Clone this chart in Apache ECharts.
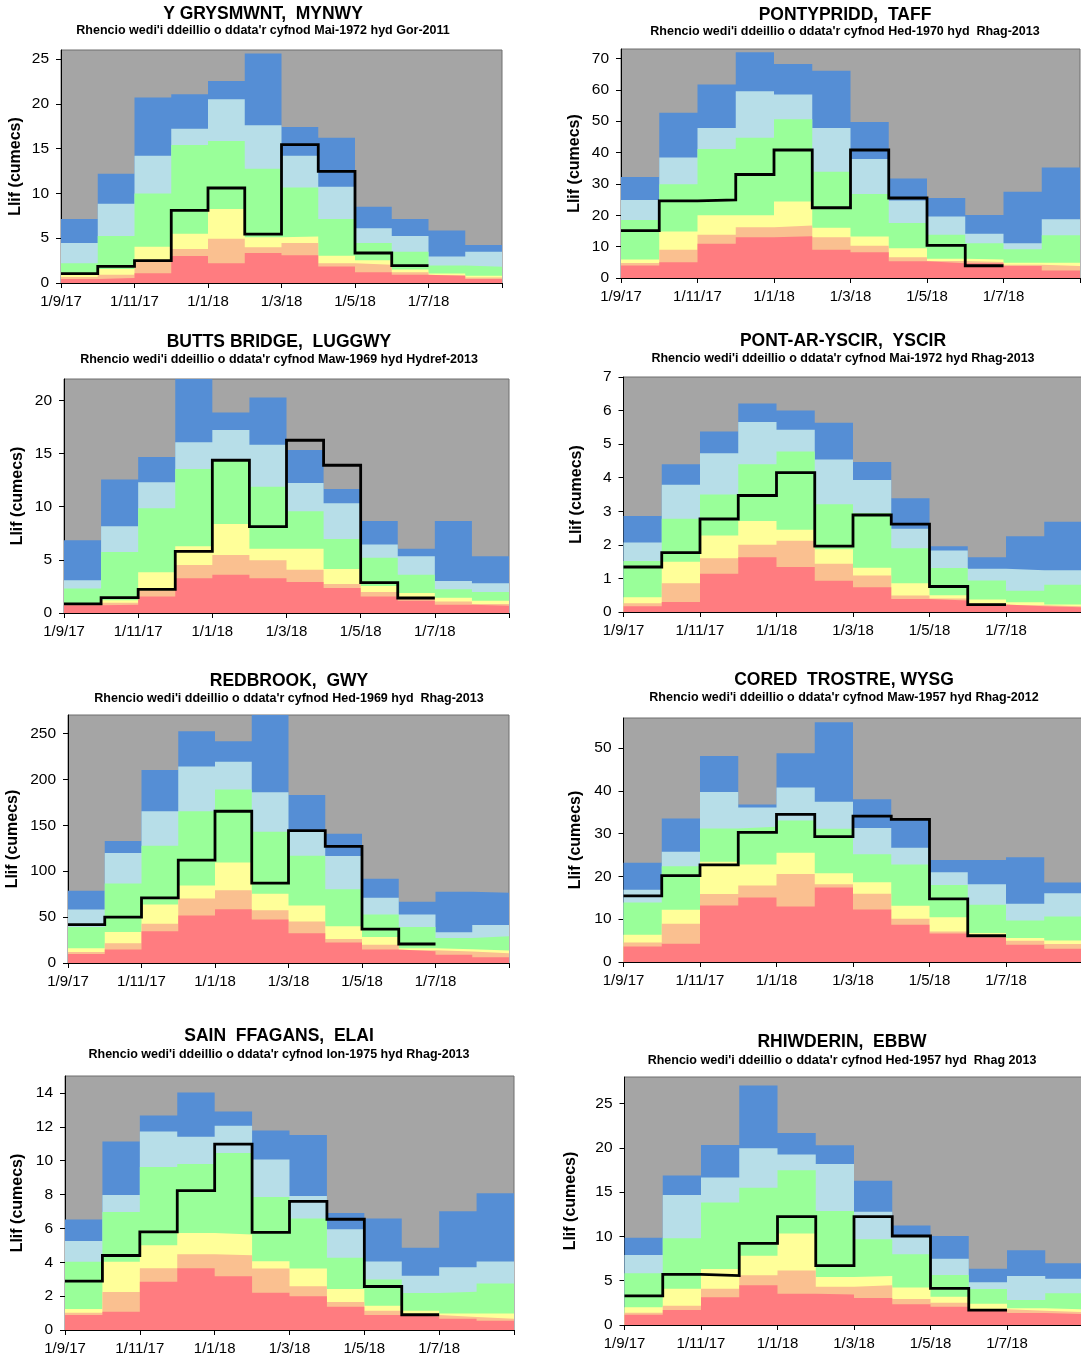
<!DOCTYPE html>
<html>
<head>
<meta charset="utf-8">
<script src="https://cdn.jsdelivr.net/npm/echarts@6/dist/echarts.min.js"></script>
<style>
html,body{margin:0;padding:0;background:#fff;}
#chart{width:1081px;height:1359px;}
</style>
</head>
<body>
<div id="chart"></div>
<script>
// Month boundaries (category points); last one closes the final month
const monthLabels = ['1/9/17','1/10/17','1/11/17','1/12/17','1/1/18','1/2/18','1/3/18','1/4/18','1/5/18','1/6/18','1/7/18','1/8/18','1/9/18'];

// Upper limits of each ranking band (cumecs), Sep-2017 .. Aug-2018, plus observed monthly flow
// Y GRYSMWNT, MYNWY
const mynwyExLow    = [0.45,0.55,1.1,3.0,2.2,3.35,3.1,1.85,1.2,0.93,0.78,0.45];
const mynwyNotLow   = [0.67,0.93,2.5,3.8,4.95,4.0,4.45,2.2,2.05,1.2,0.9,0.6];
const mynwyBelow    = [0.9,1.55,4.05,5.5,8.25,5.1,5.2,3.05,2.55,1.5,1.05,0.8];
const mynwyNormal   = [2.2,5.25,10.0,15.4,15.85,12.75,10.65,7.15,4.45,3.5,1.95,1.8];
const mynwyAbove    = [4.45,8.85,14.2,17.2,20.5,17.6,14.2,10.75,6.1,5.25,2.95,3.5];
const mynwyNotHigh  = [7.15,12.2,20.7,21.05,22.55,25.6,17.4,16.2,8.5,7.15,5.85,4.25];
const mynwyFlow     = [1.05,1.85,2.5,8.1,10.6,5.45,15.45,12.45,3.35,1.95];

// PONTYPRIDD, TAFF
const taffExLow   = [4.0,5.0,10.9,13.0,13.3,9.0,8.2,5.3,4.7,4.7,3.8,2.4];
const taffNotLow  = [4.8,9.0,13.8,16.2,16.7,13.0,10.3,6.6,5.4,5.1,4.2,3.8];
const taffBelow   = [5.9,14.8,20.0,20.0,24.4,16.0,13.2,9.5,6.1,5.9,4.9,4.9];
const taffNormal  = [18.5,29.9,41.1,44.7,50.6,33.9,26.8,17.5,13.8,11.1,9.2,13.6];
const taffAbove   = [24.9,38.4,47.8,59.5,58.5,47.8,37.9,24.7,19.6,14.1,11.1,18.7];
const taffNotHigh = [32.2,52.7,61.7,72.0,68.2,66.1,49.7,31.7,25.5,20.1,27.5,35.2];
const taffFlow    = [15.1,24.6,24.9,33.0,40.8,22.4,40.8,25.5,10.4,3.9];

// BUTTS BRIDGE, LUGGWY
const luggwyExLow   = [0.72,0.78,1.54,3.26,3.6,3.26,2.92,2.35,1.54,1.16,0.78,0.69];
const luggwyNotLow  = [0.78,0.97,2.1,4.51,5.45,4.95,4.07,2.73,1.97,1.5,1.07,0.85];
const luggwyBelow   = [0.88,1.2,3.82,6.27,8.37,6.05,6.05,4.14,2.54,1.88,1.44,1.16];
const luggwyNormal  = [2.3,5.74,9.84,13.54,14.4,11.88,9.56,6.96,5.2,3.6,2.23,1.97];
const luggwyAbove   = [3.07,8.15,12.3,16.05,17.2,15.83,12.23,10.31,6.43,5.33,3.0,2.79];
const luggwyNotHigh = [6.83,12.54,14.67,23.5,18.84,20.25,15.33,11.66,8.65,6.05,8.65,5.33];
const luggwyFlow    = [0.85,1.45,2.23,5.8,14.36,8.12,16.24,13.89,2.85,1.41];

// PONT-AR-YSCIR, YSCIR
const yscirExLow   = [0.17,0.3,1.14,1.63,1.34,0.93,0.74,0.39,0.34,0.22,0.17,0.14];
const yscirNotLow  = [0.26,0.86,1.6,2.0,2.12,1.44,1.09,0.49,0.4,0.26,0.2,0.17];
const yscirBelow   = [0.44,1.5,2.28,2.71,2.45,1.87,1.32,0.86,0.5,0.37,0.29,0.22];
const yscirNormal  = [1.52,2.78,3.5,4.4,4.78,3.21,2.95,1.9,1.31,0.94,0.63,0.81];
const yscirAbove   = [2.07,3.79,4.73,5.66,5.43,4.54,3.93,2.48,1.83,1.29,1.24,1.24];
const yscirNotHigh = [2.86,4.4,5.38,6.21,6.0,5.64,4.47,3.39,1.96,1.63,2.26,2.69];
const yscirFlow    = [1.34,1.77,2.77,3.47,4.15,1.96,2.89,2.62,0.76,0.22];

// REDBROOK, GWY
const gwyExLow   = [9.8,14.6,34.6,51.7,58.6,47.3,32.4,22.2,14.6,12.7,9.1,6.2];
const gwyNotLow  = [12.0,21.5,42.6,70.2,79.3,57.5,45.1,26.2,20.0,13.8,12.5,10.6];
const gwyBelow   = [16.0,33.8,63.7,84.4,109.5,75.3,62.6,40.0,28.4,16.0,15.0,13.5];
const gwyNormal  = [39.3,86.6,127.7,165.2,188.9,143,116.8,80.4,52.8,39.3,27.3,29.1];
const gwyAbove   = [58.2,119.7,165.2,214,219,186,144.1,116.4,71.0,52.8,33.5,41.5];
const gwyNotHigh = [78.6,132.8,210,252.2,241.3,290,183,140.8,91.7,66.6,77.5,76.4];
const gwyFlow    = [41.8,49.9,71.0,112.1,165.2,87.0,144.1,127,36.8,20.7];

// CORED TROSTRE, WYSG
const wysgExLow   = [3.65,4.27,13.2,15.06,12.97,17.4,12.27,8.7,6.68,5.75,4.04,3.1];
const wysgNotLow  = [4.58,8.93,15.9,17.86,20.57,18.17,15.92,10.1,7.14,6.13,4.97,4.19];
const wysgBelow   = [6.37,12.19,23.4,22.8,25.54,20.73,18.63,13.12,10.48,6.75,5.59,5.05];
const wysgNormal  = [13.9,22.36,31.2,31.6,33.07,31.13,25.16,22.8,18.0,13.35,9.7,10.64];
const wysgAbove   = [16.85,25.78,39.7,36.1,40.76,37.42,31.29,26.7,20.96,18.17,13.59,16.07];
const wysgNotHigh = [23.2,33.54,48.1,36.8,48.76,55.98,38.0,33.5,23.84,23.84,24.46,18.56];
const wysgFlow    = [15.45,20.19,22.7,30.3,34.47,29.27,34.08,33.3,14.75,6.13];

// SAIN FFAGANS, ELAI
const elaiExLow   = [0.88,1.08,2.85,3.65,3.18,2.2,2.0,1.37,0.88,0.79,0.67,0.55];
const elaiNotLow  = [1.02,2.24,3.65,4.48,4.42,3.63,2.59,1.65,1.14,0.88,0.77,0.67];
const elaiBelow   = [1.24,4.03,5.0,5.73,5.64,4.06,3.63,2.42,1.43,1.14,0.98,0.98];
const elaiNormal  = [4.03,6.97,9.62,9.8,10.45,7.85,6.58,4.26,2.98,2.18,2.26,2.75];
const elaiAbove   = [5.26,7.97,11.72,11.41,12.06,10.07,7.91,5.95,4.04,3.2,3.71,4.04];
const elaiNotHigh = [6.52,11.13,12.66,14.02,12.9,11.78,11.51,6.91,6.58,4.85,7.01,8.07];
const elaiFlow    = [2.89,4.4,5.79,8.23,10.98,5.77,7.6,6.54,2.57,0.9];

// RHIWDERIN, EBBW
const ebbwExLow   = [1.17,1.69,3.13,4.48,3.54,3.43,3.05,2.33,2.07,1.62,1.36,1.24];
const ebbwNotLow  = [1.39,2.18,4.1,5.61,6.14,4.33,4.48,2.94,2.52,1.77,1.62,1.47];
const ebbwBelow   = [2.0,4.1,6.33,7.83,10.32,5.42,5.53,4.22,3.2,2.41,1.88,1.77];
const ebbwNormal  = [5.84,9.79,13.82,15.51,17.47,12.88,9.68,7.98,5.65,4.07,2.82,3.58];
const ebbwAbove   = [7.91,14.68,16.64,19.95,19.24,18.19,12.8,9.98,7.49,4.82,5.53,5.23];
const ebbwNotHigh = [9.86,16.87,20.33,27.03,21.69,20.29,16.3,11.22,10.05,6.36,8.43,6.97];
const ebbwFlow    = [3.28,5.72,5.57,9.22,12.24,6.7,12.24,10.05,4.14,1.69];

const panelTitles = ['Y GRYSMWNT,  MYNWY','PONTYPRIDD,  TAFF','BUTTS BRIDGE,  LUGGWY','PONT-AR-YSCIR,  YSCIR','REDBROOK,  GWY','CORED  TROSTRE, WYSG','SAIN  FFAGANS,  ELAI','RHIWDERIN,  EBBW'];
const panelSubtitles = [
  "Rhencio wedi'i ddeillio o ddata'r cyfnod Mai-1972 hyd Gor-2011",
  "Rhencio wedi'i ddeillio o ddata'r cyfnod Hed-1970 hyd  Rhag-2013",
  "Rhencio wedi'i ddeillio o ddata'r cyfnod Maw-1969 hyd Hydref-2013",
  "Rhencio wedi'i ddeillio o ddata'r cyfnod Mai-1972 hyd Rhag-2013",
  "Rhencio wedi'i ddeillio o ddata'r cyfnod Hed-1969 hyd  Rhag-2013",
  "Rhencio wedi'i ddeillio o ddata'r cyfnod Maw-1957 hyd Rhag-2012",
  "Rhencio wedi'i ddeillio o ddata'r cyfnod Ion-1975 hyd Rhag-2013",
  "Rhencio wedi'i ddeillio o ddata'r cyfnod Hed-1957 hyd  Rhag 2013"
];
const yMaxes     = [26, 73, 22, 7, 270, 57, 15, 28];
const yIntervals = [5, 10, 5, 1, 50, 10, 2, 5];
const yAxisName = 'Llif (cumecs)';

const panelBands = [
  [mynwyNotHigh, mynwyAbove, mynwyNormal, mynwyBelow, mynwyNotLow, mynwyExLow],
  [taffNotHigh, taffAbove, taffNormal, taffBelow, taffNotLow, taffExLow],
  [luggwyNotHigh, luggwyAbove, luggwyNormal, luggwyBelow, luggwyNotLow, luggwyExLow],
  [yscirNotHigh, yscirAbove, yscirNormal, yscirBelow, yscirNotLow, yscirExLow],
  [gwyNotHigh, gwyAbove, gwyNormal, gwyBelow, gwyNotLow, gwyExLow],
  [wysgNotHigh, wysgAbove, wysgNormal, wysgBelow, wysgNotLow, wysgExLow],
  [elaiNotHigh, elaiAbove, elaiNormal, elaiBelow, elaiNotLow, elaiExLow],
  [ebbwNotHigh, ebbwAbove, ebbwNormal, ebbwBelow, ebbwNotLow, ebbwExLow]
];
const panelFlows = [mynwyFlow, taffFlow, luggwyFlow, yscirFlow, gwyFlow, wysgFlow, elaiFlow, ebbwFlow];

// ---- layout & style (not data) ----
const bandColors = ['#558ed5', '#b7dee8', '#99ff99', '#ffff99', '#fac090', '#ff7c80'];
const grids = [
  {left: 61,    top: 50,   width: 441, height: 233},
  {left: 621,   top: 49,   width: 459, height: 229},
  {left: 64,    top: 379,  width: 445, height: 234},
  {left: 623.5, top: 377,  width: 459, height: 235},
  {left: 68,    top: 715,  width: 441, height: 248},
  {left: 623.5, top: 718,  width: 459, height: 244},
  {left: 65,    top: 1076, width: 449, height: 254},
  {left: 624.5, top: 1077, width: 459, height: 248}
];
const titlePos = [
  [263, 14, 31], [845, 15, 32], [279, 342, 360], [843, 341, 359],
  [289, 681, 699], [844, 680, 698], [279, 1036, 1055], [842, 1042, 1061]
];
const nameGaps = [37, 38, 38, 38.5, 47, 39.5, 39, 46];
const FONT = 'Liberation Sans, Arial, Helvetica, sans-serif';

const withClose = arr => arr.concat([arr[arr.length - 1]]);

const option = {
  animation: false,
  backgroundColor: '#ffffff',
  title: [],
  grid: [],
  xAxis: [],
  yAxis: [],
  series: []
};

for (let i = 0; i < 8; i++) {
  const [tx, ty, sy] = titlePos[i];
  option.title.push({
    text: panelTitles[i], left: tx, top: ty - 9, textAlign: 'center', padding: 0,
    textStyle: {fontFamily: FONT, fontSize: 17.5, fontWeight: 'bold', color: '#000'}
  });
  option.title.push({
    text: panelSubtitles[i], left: tx, top: sy - 6.5, textAlign: 'center', padding: 0,
    textStyle: {fontFamily: FONT, fontSize: 12.5, fontWeight: 'bold', color: '#000'}
  });
  option.grid.push(Object.assign({
    show: true, backgroundColor: '#a5a5a5', borderColor: '#6e6e6e', borderWidth: 1,
    containLabel: false, outerBoundsMode: 'none'
  }, grids[i]));
  option.xAxis.push({
    type: 'category', gridIndex: i, data: monthLabels, boundaryGap: false,
    axisLine: {show: true, onZero: false, lineStyle: {color: '#000', width: 1}},
    axisTick: {show: true, interval: 1, length: 5, inside: false, lineStyle: {color: '#000'}},
    axisLabel: {
      interval: 1, margin: 11, fontFamily: FONT, fontSize: 15, color: '#000',
      formatter: (v, idx) => (idx === monthLabels.length - 1 ? '' : v)
    },
    splitLine: {show: false}
  });
  option.yAxis.push({
    type: 'value', gridIndex: i, min: 0, max: yMaxes[i], interval: yIntervals[i],
    name: yAxisName, nameLocation: 'middle', nameGap: nameGaps[i],
    nameTextStyle: {fontFamily: FONT, fontSize: 16, fontWeight: 'bold', color: '#000'},
    axisLine: {show: true, lineStyle: {color: '#000', width: 1}},
    axisTick: {show: true, length: 5, inside: false, lineStyle: {color: '#000'}},
    axisLabel: {
      margin: 12, fontFamily: FONT, fontSize: 15.5, color: '#000',
      showMaxLabel: yMaxes[i] % yIntervals[i] === 0, showMinLabel: true
    },
    splitLine: {show: false}
  });
  panelBands[i].forEach((band, b) => {
    option.series.push({
      type: 'line', xAxisIndex: i, yAxisIndex: i, step: 'end', silent: true,
      symbol: 'none', showSymbol: false, clip: true,
      data: withClose(band),
      lineStyle: {width: 0, opacity: 0},
      areaStyle: {color: bandColors[b], opacity: 1, origin: 'start'},
      z: 2 + b
    });
  });
  option.series.push({
    type: 'line', xAxisIndex: i, yAxisIndex: i, step: 'end', silent: true,
    symbol: 'none', showSymbol: false,
    data: withClose(panelFlows[i]),
    lineStyle: {color: '#000', width: 2.8, join: 'miter'},
    z: 20
  });
}

const chart = echarts.init(document.getElementById('chart'), null, {renderer: 'canvas'});
chart.setOption(option);
</script>
</body>
</html>
